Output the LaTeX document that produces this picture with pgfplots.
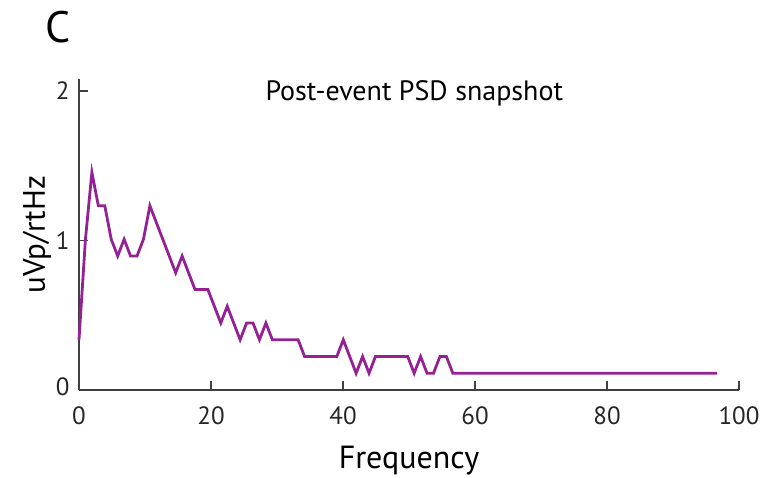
\documentclass[border=0pt]{standalone}
\usepackage{pgfplots}
\pgfplotsset{compat=1.18}
\usepackage{fontspec}
\setmainfont{PT Sans}
\definecolor{psdpurple}{RGB}{148,34,148}
\definecolor{axgray}{RGB}{64,64,64}
\begin{document}
\begin{tikzpicture}
\path[use as bounding box] (-79pt,-88pt) rectangle (681pt,390pt);
\begin{axis}[
  at={(0pt,0pt)}, anchor=south west,
  scale only axis, width=660pt, height=311pt,
  xmin=0, xmax=100, ymin=0, ymax=2.08,
  axis lines=left, axis line style={-, axgray, line width=1.6pt},
  tick align=inside,
  major tick length=9pt,
  xtick={0,20,40,60,80,100}, ytick={0,1,2},
  yticklabels={\raisebox{7pt}{0},1,2},
  tick style={axgray, line width=1.4pt},
  /pgf/number format/assume math mode=true,
  ticklabel style={font=\fontsize{25}{30}\selectfont, text=black!85},
  xticklabel style={yshift=-13pt},
  yticklabel style={xshift=-6pt},
  xlabel={Frequency}, ylabel={uVp/rtHz},
  xlabel style={font=\fontsize{32}{38}\selectfont, yshift=-15pt},
  ylabel style={font=\fontsize{31}{36}\selectfont, yshift=-2pt},
  clip=false,
]
\addplot[psdpurple, line width=2.8pt, line join=miter] coordinates {
(0.000,0.336) (0.977,1.008) (1.953,1.456) (2.930,1.232) (3.906,1.232)
(4.883,1.008) (5.859,0.896) (6.836,1.008) (7.813,0.896) (8.789,0.896)
(9.766,1.008) (10.742,1.232) (11.719,1.120) (12.695,1.008) (13.672,0.896)
(14.648,0.784) (15.625,0.896) (16.602,0.784) (17.578,0.672) (18.555,0.672)
(19.531,0.672) (20.508,0.560) (21.484,0.448) (22.461,0.560) (23.438,0.448)
(24.414,0.336) (25.391,0.448) (26.367,0.448) (27.344,0.336) (28.320,0.448)
(29.297,0.336) (30.273,0.336) (31.250,0.336) (32.227,0.336) (33.203,0.336)
(34.180,0.224) (35.156,0.224) (36.133,0.224) (37.109,0.224) (38.086,0.224)
(39.063,0.224) (40.039,0.336) (41.016,0.224) (41.992,0.112) (42.969,0.224)
(43.945,0.112) (44.922,0.224) (45.898,0.224) (46.875,0.224) (47.852,0.224)
(48.828,0.224) (49.805,0.224) (50.781,0.112) (51.758,0.224) (52.734,0.112)
(53.711,0.112) (54.688,0.224) (55.664,0.224) (56.641,0.112) (60.000,0.112)
(70.000,0.112) (80.000,0.112) (90.000,0.112) (96.680,0.112)
};
\node[font=\fontsize{28}{33}\selectfont, anchor=center] at (axis description cs:0.508,1) [yshift=-14pt] {Post-event PSD snapshot};
\end{axis}
\node[font=\fontsize{44}{50}\selectfont, anchor=base west] at (-37pt,347pt) {C};
\end{tikzpicture}
\end{document}
